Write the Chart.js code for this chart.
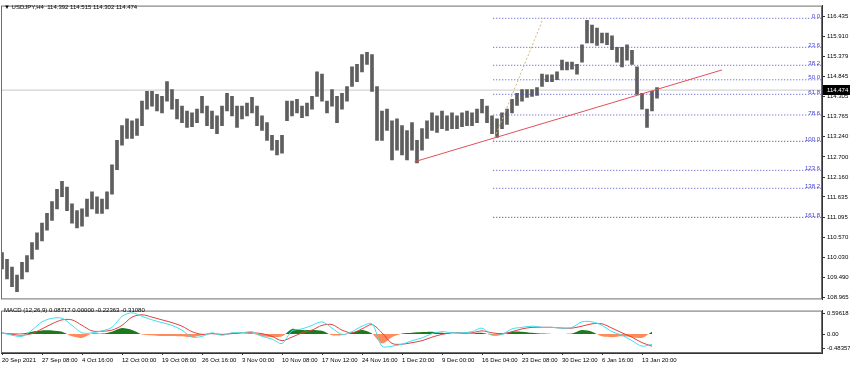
<!DOCTYPE html>
<html lang="en">
<head>
<meta charset="UTF-8">
<title>USDJPY,H4</title>
<script src="https://cdn.jsdelivr.net/npm/chart.js@4"></script>
<style>
  html, body { margin: 0; padding: 0; background: #fff; }
  #wrap { position: relative; width: 850px; height: 366px; overflow: hidden; font-family: 'Liberation Sans', Arial, sans-serif; }
  canvas { position: absolute; left: 0; }
  #mainChart { top: 0; }
  #macdChart { top: 305px; }
  .cap { position: absolute; left: 4px; font-size: 6px; line-height: 7px; color: #000; white-space: pre; }
</style>
</head>
<body>
<div id="wrap">
  <canvas id="mainChart" width="850" height="305"></canvas>
  <canvas id="macdChart" width="850" height="61"></canvas>
  <div class="cap" id="title" style="top:4px;"></div>
  <div class="cap" id="macdTitle" style="top:307px;"></div>
</div>
<script>
// --- data ---
const symbolTitle = 'USDJPY,H4';
const ohlcNow = ['114.392', '114.515', '114.302', '114.474'];
const bidPrice = 114.474;

const dateLabels = ['20 Sep 2021', '27 Sep 08:00', '4 Oct 16:00', '12 Oct 00:00', '19 Oct 08:00', '26 Oct 16:00',
  '3 Nov 00:00', '10 Nov 08:00', '17 Nov 12:00', '24 Nov 16:00', '1 Dec 20:00', '9 Dec 00:00',
  '16 Dec 04:00', '23 Dec 08:00', '30 Dec 12:00', '6 Jan 16:00', '13 Jan 20:00'];
const dateTickBars = [0, 32, 64, 96, 128, 160, 192, 224, 256, 288, 320, 352, 384, 416, 448, 480, 512];

const priceTicks = [116.435, 115.910, 115.379, 114.845, 114.305, 113.765, 113.240, 112.700,
  112.160, 111.635, 111.095, 110.570, 110.030, 109.490, 108.965];

// one sample every 4 H4 bars
const barStep = 4;
const priceHigh = [
  110.16, 109.98, 109.77, 109.56, 109.90, 110.08, 110.42, 110.68, 110.94, 111.20,
  111.51, 111.84, 112.05, 111.90, 111.45, 111.27, 111.32, 111.58, 111.77, 111.64,
  111.58, 111.77, 112.49, 113.14, 113.53, 113.71, 113.66, 113.71, 114.18, 114.44,
  114.44, 114.36, 114.31, 114.70, 114.49, 114.23, 114.05, 113.92, 113.87, 113.97,
  114.31, 114.05, 113.92, 113.79, 114.05, 114.39, 114.31, 114.05, 114.05, 114.13,
  114.28, 114.05, 113.79, 113.61, 113.27, 113.14, 113.27, 114.18, 114.18, 114.23,
  114.05, 114.13, 114.31, 114.96, 114.90, 114.18, 114.49, 114.31, 114.39, 114.57,
  115.09, 115.16, 115.42, 115.48, 115.42, 114.57, 113.92, 113.97, 113.66, 113.71,
  113.53, 113.40, 113.61, 113.14, 113.45, 113.66, 113.87, 113.79, 113.92, 113.79,
  113.87, 113.79, 113.87, 113.92, 113.87, 113.97, 114.23, 114.05, 113.79, 113.71,
  113.87, 113.97, 114.23, 114.39, 114.49, 114.49, 114.49, 114.54, 114.90, 114.88,
  114.88, 114.96, 115.27, 115.22, 115.22, 115.16, 115.68, 116.33, 116.20, 116.12,
  115.99, 115.99, 115.92, 115.61, 115.61, 115.68, 115.53, 115.09, 114.39, 113.97,
  114.44, 114.54
];
const priceLow = [
  109.72, 109.46, 109.25, 109.12, 109.46, 109.64, 109.98, 110.24, 110.47, 110.75,
  111.01, 111.32, 111.64, 111.27, 110.94, 110.81, 110.86, 111.12, 111.32, 111.20,
  111.20, 111.32, 111.71, 112.36, 113.01, 113.19, 113.19, 113.27, 113.53, 113.97,
  114.05, 113.92, 113.87, 114.18, 113.97, 113.71, 113.61, 113.48, 113.50, 113.61,
  113.87, 113.53, 113.45, 113.32, 113.53, 113.92, 113.79, 113.48, 113.71, 113.79,
  113.87, 113.53, 113.40, 113.14, 112.88, 112.75, 112.80, 113.66, 113.79, 113.87,
  113.74, 113.79, 113.97, 114.31, 114.18, 113.87, 114.05, 113.61, 113.97, 114.18,
  114.57, 114.70, 114.96, 115.16, 114.44, 113.14, 113.14, 113.40, 112.62, 112.88,
  112.75, 112.62, 112.88, 112.54, 112.88, 113.19, 113.40, 113.35, 113.45, 113.40,
  113.45, 113.45, 113.50, 113.53, 113.53, 113.61, 113.87, 113.61, 113.32, 113.22,
  113.45, 113.56, 113.87, 114.07, 114.18, 114.28, 114.31, 114.33, 114.57, 114.70,
  114.70, 114.75, 115.01, 115.01, 115.03, 114.90, 115.22, 115.73, 115.73, 115.66,
  115.73, 115.68, 115.55, 115.22, 115.09, 115.27, 115.16, 114.36, 113.97, 113.48,
  113.92, 114.26
];

// fibonacci retracement and trend line anchors
const fibRatios = [0, 23.6, 38.2, 50.0, 61.8, 78.6, 100.0, 123.6, 138.2, 161.8];
const fibHigh = 116.383;
const fibLow = 113.114;
const fibLowBar = 393;
const fibHighBar = 433;
const trendBars = [330, 576];
const trendPrices = [112.57, 115.01];

// MACD(12,26,9), one sample every 8 bars
const macdStep = 8;
const macdMain = [
  0.03, -0.03, -0.06, 0.10, 0.31, 0.40, 0.40, 0.22, 0.03, 0.03,
  0.08, 0.17, 0.45, 0.54, 0.45, 0.36, 0.29, 0.22, 0.10, -0.08,
  -0.06, 0.03, -0.03, 0.03, 0.03, 0.06, -0.06, -0.13, -0.24, 0.08,
  0.13, 0.22, 0.31, 0.15, -0.01, 0.06, 0.20, 0.26, -0.31, -0.31,
  -0.26, -0.17, -0.10, 0.01, 0.06, 0.03, 0.03, 0.06, 0.15, -0.03,
  -0.01, 0.13, 0.17, 0.20, 0.17, 0.17, 0.15, 0.17, 0.31, 0.31,
  0.22, 0.06, -0.03, -0.17, -0.31, -0.26
];
const macdSignal = [
  0.03, -0.01, -0.03, 0.01, 0.13, 0.26, 0.36, 0.36, 0.22, 0.08,
  0.07, 0.10, 0.22, 0.43, 0.49, 0.43, 0.36, 0.29, 0.20, 0.06,
  -0.01, 0.01, -0.01, 0.01, 0.03, 0.03, 0.01, -0.06, -0.17, -0.08,
  0.03, 0.10, 0.22, 0.24, 0.10, 0.03, 0.13, 0.24, 0.03, -0.24,
  -0.26, -0.22, -0.17, -0.08, -0.01, 0.03, 0.03, 0.03, 0.08, 0.03,
  0.01, 0.06, 0.13, 0.17, 0.17, 0.17, 0.15, 0.15, 0.20, 0.26,
  0.26, 0.15, 0.03, -0.08, -0.22, -0.31
];
const macdHist = [
  0, 0.01, 0.01, 0.06, 0.09, 0.09, 0.06, -0.06, -0.10, 0.01,
  0.01, 0.06, 0.15, 0.10, -0.01, -0.03, -0.05, -0.05, -0.06, -0.08,
  -0.03, 0.02, -0.03, 0.03, 0, 0.01, -0.06, -0.08, -0.06, 0.13,
  0.10, 0.10, 0.08, -0.03, -0.03, 0.03, 0.10, 0.01, -0.24, -0.08,
  0.01, 0.03, 0.05, 0.06, 0.03, 0, 0.01, 0.01, 0.03, -0.03,
  -0.02, 0.06, 0.06, 0.03, 0.01, 0, 0, 0.01, 0.10, 0.06,
  -0.06, -0.08, -0.06, -0.08, -0.10, 0.06
];
const macdReadout = ['0.08717', '0.00000', '-0.22363', '-0.31080'];
const macdMax = 0.59618;
const macdMin = -0.48357;
const macdTickValues = [0.527, 0, -0.369];
const macdTickText = ['0.59618', '0.00', '-0.48357'];

// --- setup ---
const FONT = "'Liberation Sans', Arial, sans-serif";
Chart.defaults.font.family = FONT;
Chart.defaults.font.size = 6;
Chart.defaults.color = '#000';

const xMin = -0.8;
const xMax = 656;
const fibPrice = r => fibHigh - (fibHigh - fibLow) * r / 100;

document.getElementById('title').textContent = '\u25BC ' + symbolTitle + '  ' + ohlcNow.join(' ');
document.getElementById('macdTitle').textContent = 'MACD (12,26,9) ' + macdReadout.join(' ');

const frame = {
  id: 'frame',
  afterDraw(chart) {
    const { ctx, chartArea: a } = chart;
    ctx.save();
    ctx.strokeStyle = '#6e6e6e';
    ctx.lineWidth = 1;
    ctx.strokeRect(a.left + 0.5, a.top + 0.5, a.right - a.left - 1, a.bottom - a.top - 1);
    ctx.restore();
  }
};

const fibLabels = {
  id: 'fibLabels',
  afterDatasetsDraw(chart) {
    const { ctx, chartArea: a, scales: { y } } = chart;
    ctx.save();
    ctx.font = '6px ' + FONT;
    ctx.fillStyle = '#3c3cd2';
    ctx.textAlign = 'right';
    ctx.textBaseline = 'bottom';
    fibRatios.forEach(r => {
      ctx.fillText(r.toFixed(1), a.right - 2, y.getPixelForValue(fibPrice(r)) + 1);
    });
    ctx.restore();
  }
};

const bidBox = {
  id: 'bidBox',
  afterDraw(chart) {
    const { ctx, chartArea: a, scales: { y } } = chart;
    const py = Math.round(y.getPixelForValue(bidPrice));
    ctx.save();
    ctx.fillStyle = '#000';
    ctx.fillRect(a.right + 1, py - 5, 27, 10);
    ctx.fillStyle = '#fff';
    ctx.font = '6px ' + FONT;
    ctx.textAlign = 'left';
    ctx.textBaseline = 'middle';
    ctx.fillText(bidPrice.toFixed(3), a.right + 5, py);
    ctx.restore();
  }
};

const hLine = (price, x0, x1) => [{ x: x0, y: price }, { x: x1, y: price }];

const fibSets = fibRatios.map(r => ({
  type: 'line',
  data: hLine(fibPrice(r), fibLowBar, xMax),
  borderColor: (r === 100 || r === 161.8) ? '#34347a' : '#4b4bc8',
  borderWidth: 1,
  borderDash: [1, 2],
  pointRadius: 0
}));

new Chart(document.getElementById('mainChart'), {
  type: 'bar',
  data: {
    datasets: [
      {
        type: 'line',
        data: [{ x: trendBars[0], y: trendPrices[0] }, { x: trendBars[1], y: trendPrices[1] }],
        borderColor: '#e0505a',
        borderWidth: 1,
        pointRadius: 0
      },
      {
        type: 'line',
        data: [{ x: fibLowBar, y: fibLow }, { x: fibHighBar, y: fibHigh }],
        borderColor: '#d2b478',
        borderWidth: 1,
        borderDash: [2, 2],
        pointRadius: 0
      },
      ...fibSets,
      {
        data: priceHigh.map((h, i) => ({ x: i * barStep, y: [priceLow[i], h] })),
        backgroundColor: '#5e5e5e',
        barThickness: 3
      },
      {
        type: 'line',
        data: hLine(bidPrice, xMin, xMax),
        borderColor: '#c8c8c8',
        borderWidth: 1,
        pointRadius: 0
      }
    ]
  },
  options: {
    responsive: false,
    animation: false,
    devicePixelRatio: 1,
    layout: { padding: { left: 1, right: 0, top: 2, bottom: 2 } },
    plugins: { legend: { display: false }, tooltip: { enabled: false } },
    scales: {
      x: { type: 'linear', min: xMin, max: xMax, offset: false, display: false },
      y: {
        position: 'right',
        min: 108.913,
        max: 116.720,
        afterBuildTicks: s => { s.ticks = priceTicks.map(v => ({ value: v })); },
        afterFit: s => { s.width = 28; },
        ticks: { padding: 2, callback: v => v.toFixed(3) },
        grid: { drawOnChartArea: false, tickLength: 3, color: '#333' },
        border: { display: true, color: '#333' }
      }
    }
  },
  plugins: [frame, fibLabels, bidBox]
});

new Chart(document.getElementById('macdChart'), {
  type: 'line',
  data: {
    datasets: [
      {
        data: macdMain.map((v, i) => ({ x: i * macdStep, y: v })),
        borderColor: '#3ee0f0',
        borderWidth: 1,
        pointRadius: 0,
        tension: 0.3
      },
      {
        data: macdSignal.map((v, i) => ({ x: i * macdStep, y: v })),
        borderColor: '#e04040',
        borderWidth: 1,
        pointRadius: 0,
        tension: 0.3
      },
      {
        data: macdHist.map((v, i) => ({ x: i * macdStep, y: v })),
        borderWidth: 0,
        borderColor: 'rgba(0,0,0,0)',
        pointRadius: 0,
        tension: 0.25,
        fill: { target: 'origin', above: '#1c7a1c', below: '#ff8a5c' }
      }
    ]
  },
  options: {
    responsive: false,
    animation: false,
    devicePixelRatio: 1,
    layout: { padding: { left: 1, right: 0, top: 1, bottom: 0 } },
    plugins: { legend: { display: false }, tooltip: { enabled: false } },
    scales: {
      x: {
        type: 'linear',
        min: xMin,
        max: xMax,
        offset: false,
        afterBuildTicks: s => { s.ticks = dateTickBars.map(v => ({ value: v })); },
        afterFit: s => { s.height = 13; },
        ticks: { autoSkip: false, maxRotation: 0, align: 'start', padding: 2, callback: (v, i) => dateLabels[i] },
        grid: { drawOnChartArea: false, tickLength: 2, color: '#333' },
        border: { display: true, color: '#333' }
      },
      y: {
        position: 'right',
        min: macdMin,
        max: macdMax,
        afterBuildTicks: s => { s.ticks = macdTickValues.map(v => ({ value: v })); },
        afterFit: s => { s.width = 28; },
        ticks: { padding: 2, callback: (v, i) => macdTickText[i] },
        grid: { drawOnChartArea: false, tickLength: 3, color: '#333' },
        border: { display: true, color: '#333' }
      }
    }
  },
  plugins: [frame]
});
</script>
</body>
</html>
